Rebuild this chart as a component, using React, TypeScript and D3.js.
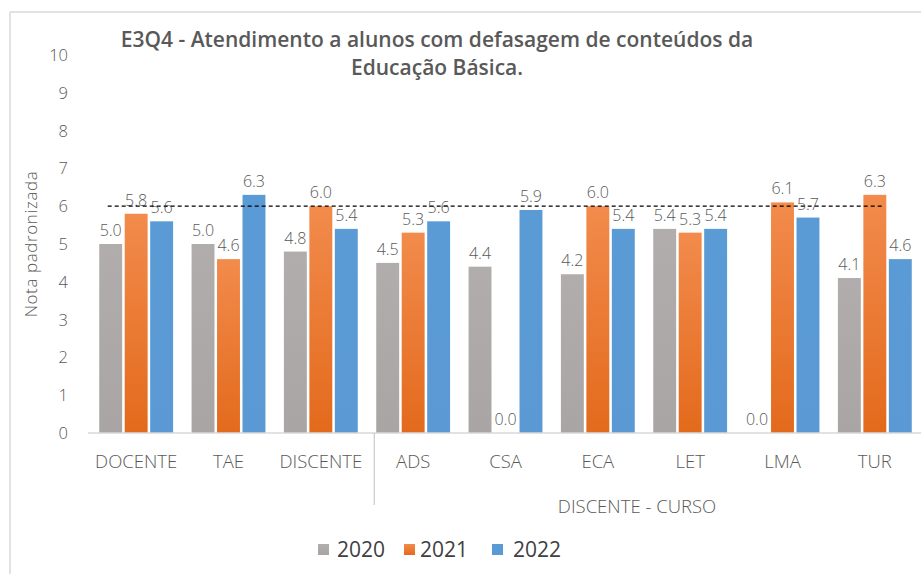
import React from "react";
import * as d3 from "d3";

const categories = ["DOCENTE", "TAE", "DISCENTE", "ADS", "CSA", "ECA", "LET", "LMA", "TUR"];
const seriesNames = ["2020", "2021", "2022"];
const values2020 = [5.0, 5.0, 4.8, 4.5, 4.4, 4.2, 5.4, 0.0, 4.1];
const values2021 = [5.8, 4.6, 6.0, 5.3, 0.0, 6.0, 5.3, 6.1, 6.3];
const values2022 = [5.6, 6.3, 5.4, 5.6, 5.9, 5.4, 5.4, 5.7, 4.6];
const yTicks = [0, 1, 2, 3, 4, 5, 6, 7, 8, 9, 10];
const referenceValue = 6;
const titleLines = ["E3Q4 - Atendimento a alunos com defasagem de conteúdos da", "Educação Básica."];
const yAxisTitle = "Nota padronizada";
const groupTitle = "DISCENTE  - CURSO";

const W = 921;
const H = 574;
const FONT = "'Open Sans', 'Noto Sans', sans-serif";

export default function App() {
  const seriesValues = [values2020, values2021, values2022];
  const x = d3.scaleBand<string>().domain(categories).range([90, 921]).paddingInner(0.2).paddingOuter(0.1);
  const xs = d3.scaleBand<string>().domain(seriesNames).range([0, x.bandwidth()]).paddingInner(0.1);
  const y = d3.scaleLinear().domain([0, 10]).range([433, 55]);
  const bw = xs.bandwidth();

  const lineX1 = (x(categories[0]) as number) + (xs("2020") as number) + bw / 2 - 3;
  const lineX2 = (x(categories[categories.length - 1]) as number) + (xs("2021") as number) + bw - 3;
  const sepX = (x("ADS") as number) - 2;
  const discStart = x("ADS") as number;
  const discEnd = (x("TUR") as number) + x.bandwidth();

  const legendItems = [
    { name: "2020", sq: 318, tx: 337 },
    { name: "2021", sq: 404, tx: 420 },
    { name: "2022", sq: 492, tx: 513 },
  ];

  return (
    <svg width={W} height={H} style={{ position: "absolute", left: 0, top: 0, background: "#fff" }} fontFamily={FONT}>
      <defs>
        <linearGradient id="g2020" x1="0" y1="0" x2="0" y2="1">
          <stop offset="0" stopColor="#B1ADAC" />
          <stop offset="1" stopColor="#A9A5A4" />
        </linearGradient>
        <linearGradient id="g2021" x1="0" y1="0" x2="0" y2="1">
          <stop offset="0" stopColor="#F28B4C" />
          <stop offset="1" stopColor="#E36A1C" />
        </linearGradient>
        <linearGradient id="g2022" x1="0" y1="0" x2="0" y2="1">
          <stop offset="0" stopColor="#5B9BD5" />
          <stop offset="1" stopColor="#5A99D3" />
        </linearGradient>
      </defs>
      <rect x={0} y={0} width={W} height={H} fill="#fff" />
      <line x1={10} y1={12} x2={W} y2={12} stroke="#D9D9D9" strokeWidth={1.5} />
      <line x1={10} y1={12} x2={10} y2={H} stroke="#D9D9D9" strokeWidth={1.5} />

      {titleLines.map((t, i) => (
        <text key={i} x={437} y={47 + i * 27.5} textAnchor="middle" fontSize={21} fontWeight={600} fill="#595959">
          {t}
        </text>
      ))}

      {yTicks.map((t) => (
        <text key={t} x={68} y={y(t) + 6} textAnchor="end" fontSize={16.5} fill="#595959" fontWeight={300}>
          {t}
        </text>
      ))}

      <text transform={`translate(37,244) rotate(-90)`} textAnchor="middle" fontSize={17} letterSpacing={0.6} fill="#595959" fontWeight={300}>
        {yAxisTitle}
      </text>

      {categories.map((c, ci) => (
        <g key={c} transform={`translate(${x(c)},0)`}>
          {seriesNames.map((s, si) => {
            const v = seriesValues[si][ci];
            const bx = xs(s) as number;
            return (
              <g key={s}>
                {v > 0 && (
                  <rect x={bx} y={y(v)} width={bw} height={y(0) - y(v)} fill={`url(#g${s})`} />
                )}
                <text x={bx + bw / 2} y={y(v) - 8} textAnchor="middle" fontSize={16} fill="#595959" fontWeight={300}>
                  {v.toFixed(1)}
                </text>
              </g>
            );
          })}
        </g>
      ))}

      <line x1={88} y1={y(0)} x2={W} y2={y(0)} stroke="#D9D9D9" strokeWidth={1.5} />
      <line x1={lineX1} y1={y(referenceValue)} x2={lineX2} y2={y(referenceValue)} stroke="#000" strokeWidth={1.2} strokeDasharray="4 3" />

      {categories.map((c) => (
        <text key={c} x={(x(c) as number) + x.bandwidth() / 2} y={468} textAnchor="middle" fontSize={18.5} fill="#595959" fontWeight={300}>
          {c}
        </text>
      ))}

      <line x1={sepX} y1={y(0)} x2={sepX} y2={505} stroke="#BFBFBF" strokeWidth={1} />
      <text x={(discStart + discEnd) / 2 - 7} y={513} textAnchor="middle" fontSize={18.5} fill="#595959" fontWeight={300}>
        {groupTitle}
      </text>

      {legendItems.map((l) => (
        <g key={l.name}>
          <rect x={l.sq} y={544} width={11} height={11} fill={`url(#g${l.name})`} />
          <text x={l.tx} y={557} fontSize={21} fill="#404040">
            {l.name}
          </text>
        </g>
      ))}
    </svg>
  );
}
